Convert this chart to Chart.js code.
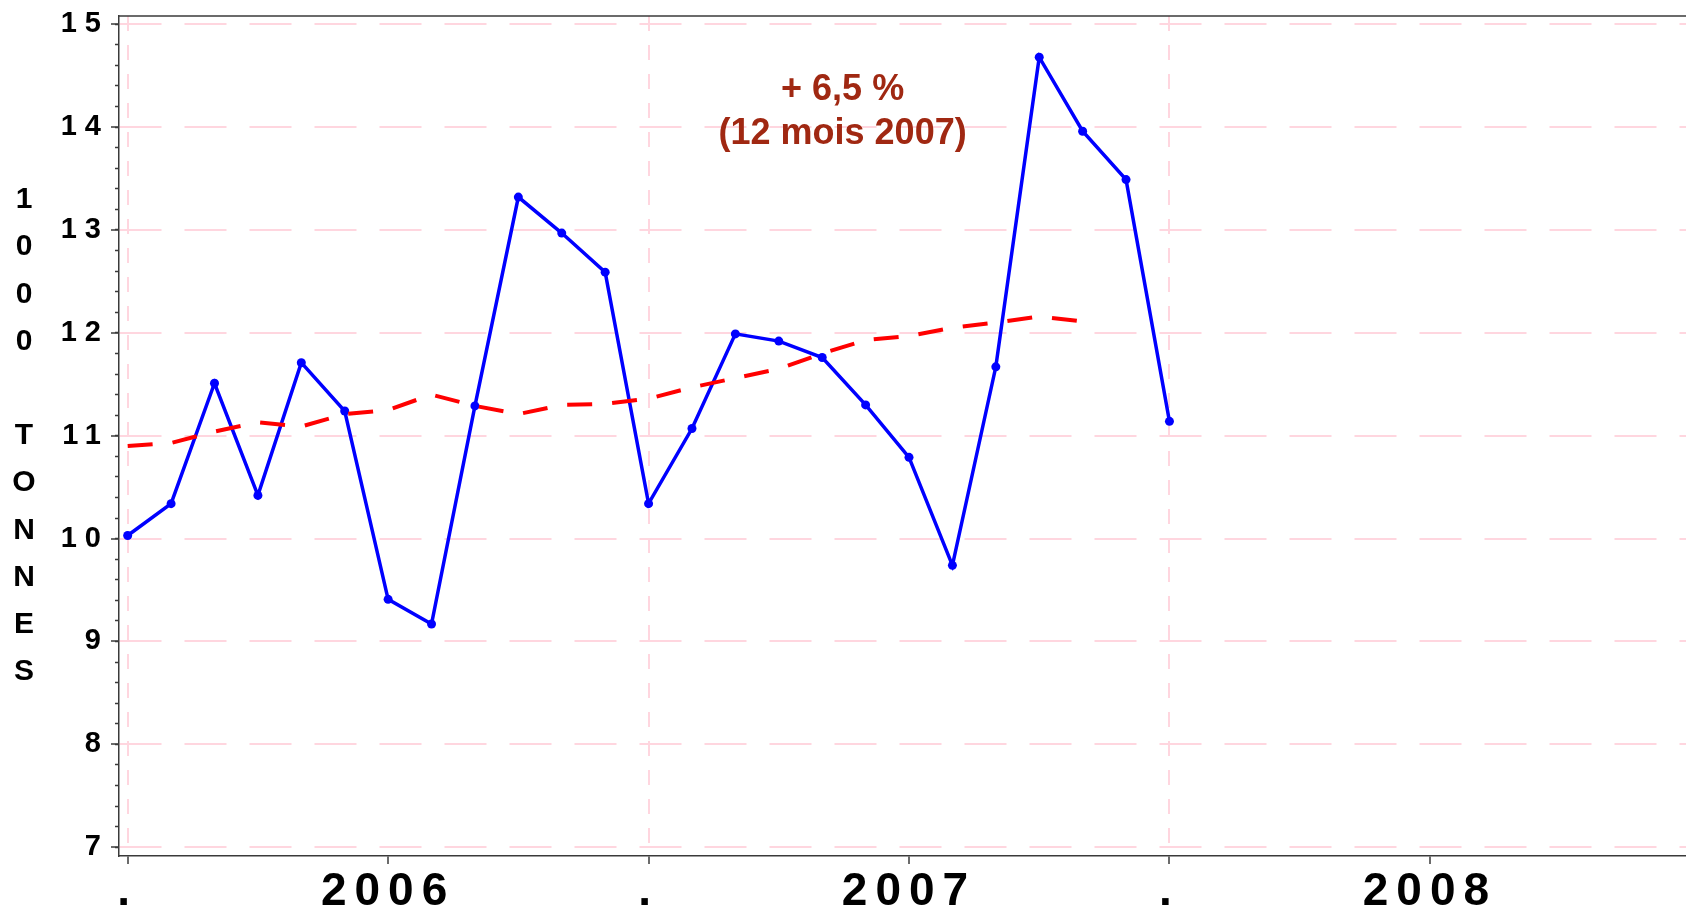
<!DOCTYPE html>
<html>
<head>
<meta charset="utf-8">
<script src="https://cdn.jsdelivr.net/npm/chart.js@4.4.0/dist/chart.umd.min.js"></script>
<style>
  html, body { margin: 0; padding: 0; background: #fff; overflow: hidden; }
  #wrap { width: 1686px; height: 910px; }
  #tonnageChart { display: block; }
</style>
</head>
<body>
<div id="wrap"><canvas id="tonnageChart" width="1686" height="910"></canvas></div>
<script>
// 월별 데이터 (1000 tonnes)
const months = [
    '2005-07', '2005-08', '2005-09', '2005-10', '2005-11', '2005-12',
    '2006-01', '2006-02', '2006-03', '2006-04', '2006-05', '2006-06',
    '2006-07', '2006-08', '2006-09', '2006-10', '2006-11', '2006-12',
    '2007-01', '2007-02', '2007-03', '2007-04', '2007-05', '2007-06',
    '2007-07'
];
const tonnage = [
    10.03, 10.34, 11.51, 10.42, 11.71, 11.24,
    9.41, 9.17, 11.29, 13.32, 12.97, 12.59,
    10.34, 11.07, 11.99, 11.92, 11.76, 11.30,
    10.79, 9.74, 11.67, 14.68, 13.96, 13.49,
    11.14
];
// 추세선 (빨간 점선) - months 앞쪽부터 대응
const trend = [
    10.90, 10.93, 11.04, 11.13, 11.09, 11.21,
    11.25, 11.40, 11.29, 11.21, 11.30, 11.31,
    11.36, 11.47, 11.56, 11.65, 11.80, 11.93,
    11.97, 12.05, 12.10, 12.16, 12.11
];

// 축 눈금
const xTickMonths = ['2005-07', '2006-01', '2006-07', '2007-01', '2007-07', '2008-01'];
const xTickLabels = ['.', '2006', '.', '2007', '.', '2008'];
const yTicks = [7, 8, 9, 10, 11, 12, 13, 14, 15];
const yTitleWords = ['1000', 'TONNES'];

// 주석 텍스트
const noteLines = ['+ 6,5 %', '(12 mois 2007)'];
const noteX = 16.47;
const noteY = [14.36, 13.93];

const FONT = 'Arial, "Liberation Sans", Helvetica, sans-serif';
const GRID_PINK = '#ffd6df';
const AXIS_GREY = '#3a3a3a';
const NOTE_RED = '#a02812';

// '2005-07' -> 0 (월 인덱스)
function monthIndex(s) {
    const [y, m] = s.split('-').map(Number);
    return (y - 2005) * 12 + (m - 7);
}

// 축 여백 제거 (차트 영역을 캔버스 끝까지)
function noPadding(s) {
    s.paddingLeft = 0;
    s.paddingRight = 0;
    s.paddingTop = 0;
    s.paddingBottom = 0;
}

// 글자 간격 + 상단 테두리 + 세로 제목 + 주석
const decorations = {
    id: 'decorations',
    beforeDraw(chart) {
        chart.ctx.letterSpacing = '8px';
    },
    afterDraw(chart) {
        const ctx = chart.ctx;
        const area = chart.chartArea;
        ctx.save();
        ctx.letterSpacing = '0px';

        // top frame line
        ctx.strokeStyle = AXIS_GREY;
        ctx.lineWidth = 1.5;
        ctx.beginPath();
        ctx.moveTo(area.left, area.top);
        ctx.lineTo(area.right, area.top);
        ctx.stroke();

        // vertical stacked title
        const chars = [];
        yTitleWords.forEach((w, i) => {
            if (i > 0) chars.push('');
            chars.push(...w.split(''));
        });
        const lineH = 47.2;
        const midY = (area.top + area.bottom) / 2;
        const startY = midY - (chars.length - 1) / 2 * lineH;
        ctx.fillStyle = '#000';
        ctx.font = 'bold 30px ' + FONT;
        ctx.textAlign = 'center';
        ctx.textBaseline = 'middle';
        chars.forEach((c, i) => {
            if (c) ctx.fillText(c, area.left - 95, startY + i * lineH);
        });

        // annotation
        const xs = chart.scales.x, ys = chart.scales.y;
        ctx.fillStyle = NOTE_RED;
        ctx.font = 'bold 36px ' + FONT;
        noteLines.forEach((t, i) => {
            ctx.fillText(t, xs.getPixelForValue(noteX), ys.getPixelForValue(noteY[i]));
        });
        ctx.restore();
    }
};

const ctx = document.getElementById('tonnageChart').getContext('2d');
new Chart(ctx, {
    type: 'line',
    data: {
        datasets: [
            {
                label: 'Tendance',
                data: trend.map((v, i) => ({ x: monthIndex(months[i]), y: v })),
                borderColor: '#ff0000',
                borderWidth: 4,
                borderDash: [25, 20],
                pointRadius: 0,
                tension: 0,
                fill: false,
                order: 0
            },
            {
                label: 'Tonnage',
                data: tonnage.map((v, i) => ({ x: monthIndex(months[i]), y: v })),
                borderColor: '#0000ff',
                backgroundColor: '#0000ff',
                borderWidth: 3.5,
                pointRadius: 4.5,
                pointBackgroundColor: '#0000ff',
                pointBorderWidth: 0,
                tension: 0,
                fill: false,
                order: 1
            }
        ]
    },
    options: {
        responsive: false,
        animation: false,
        devicePixelRatio: 1,
        layout: { autoPadding: false, padding: { top: 16, left: 0, right: 0, bottom: 0 } },
        plugins: {
            legend: { display: false },
            tooltip: { enabled: false }
        },
        scales: {
            x: {
                type: 'linear',
                position: 'bottom',
                min: -0.2,
                max: 35.9,
                afterBuildTicks: s => { s.ticks = xTickMonths.map(m => ({ value: monthIndex(m) })); },
                afterFit: s => { s.height = 54; noPadding(s); },
                ticks: {
                    autoSkip: false,
                    maxRotation: 0,
                    padding: 1,
                    color: '#000',
                    font: { family: FONT, size: 46, weight: 'bold' },
                    callback: (v, i) => xTickLabels[i]
                },
                grid: {
                    color: c => (c.type === 'tick' && xTickLabels[c.index] === '.') ? GRID_PINK : 'rgba(0,0,0,0)',
                    lineWidth: 2,
                    tickColor: AXIS_GREY,
                    tickLength: 8,
                    tickWidth: 1.5,
                    tickBorderDash: []
                },
                border: { display: true, color: AXIS_GREY, width: 1.5, dash: [15, 14] }
            },
            y: {
                type: 'linear',
                position: 'left',
                weight: 1,
                min: 6.915,
                max: 15.08,
                afterBuildTicks: s => { s.ticks = yTicks.map(v => ({ value: v })); },
                afterFit: s => { s.width = 119; noPadding(s); },
                ticks: {
                    padding: 2,
                    color: '#000',
                    font: { family: FONT, size: 29, weight: 'bold' }
                },
                grid: {
                    color: GRID_PINK,
                    lineWidth: 2,
                    tickColor: AXIS_GREY,
                    tickLength: 8,
                    tickWidth: 1.5,
                    tickBorderDash: []
                },
                border: { display: true, color: AXIS_GREY, width: 1.5, dash: [42, 23] }
            },
            yMinor: {
                type: 'linear',
                position: 'left',
                weight: 0,
                min: 6.915,
                max: 15.08,
                afterBuildTicks: s => {
                    const out = [];
                    for (let v = yTicks[0]; v <= yTicks[yTicks.length - 1] + 1e-9; v += 0.2) {
                        out.push({ value: v });
                    }
                    s.ticks = out;
                },
                afterFit: s => { s.width = 0; noPadding(s); },
                ticks: { display: false },
                grid: {
                    drawOnChartArea: false,
                    tickColor: AXIS_GREY,
                    tickLength: 4,
                    tickWidth: 1.5,
                    tickBorderDash: []
                },
                border: { display: false }
            }
        }
    },
    plugins: [decorations]
});
</script>
</body>
</html>
